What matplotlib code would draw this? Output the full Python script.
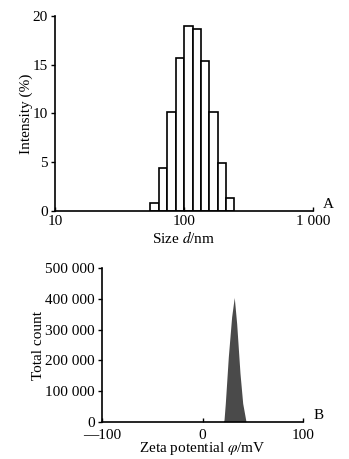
import numpy as np
import matplotlib
matplotlib.use("Agg")
import matplotlib.pyplot as plt

plt.rcParams['font.family'] = ['Liberation Serif', 'DejaVu Serif']
plt.rcParams['mathtext.fontset'] = 'stix'

# Panel A: size distribution
size_edges = [54.4, 63.5, 74.2, 86.5, 100.3, 117.0, 135.8, 157.4, 182.8, 211.9, 246.0]
intensity = [0.8, 4.4, 10.2, 15.7, 19.0, 18.7, 15.4, 10.2, 4.9, 1.3]
size_ticks = [10, 100, 1000]
size_ticklabels = ["10", "100", "1 000"]
int_ticks = [0, 5, 10, 15, 20]

# Panel B: zeta potential
zeta_mv = [20.7, 21.4, 22.7, 25.7, 29.0, 31.6, 34.0, 37.3, 40.0, 43.3]
zeta_count = [0, 5500, 60000, 212000, 342000, 405000, 320000, 158000, 60000, 0]
zeta_ticks = [-100, 0, 100]
zeta_ticklabels = ["\u2014100", "0", "100"]
count_ticks = [0, 100000, 200000, 300000, 400000, 500000]
count_ticklabels = ["0", "100 000", "200 000", "300 000", "400 000", "500 000"]

fs = 11
fig = plt.figure(figsize=(3.49, 4.59), dpi=100)

ax1 = fig.add_axes([55/349, (459-211)/459, 258/349, 195/459])
edges = np.array(size_edges)
ax1.bar(edges[:-1], intensity, width=np.diff(edges), align='edge',
        facecolor='white', edgecolor='black', linewidth=1.2)
ax1.set_xscale('log')
ax1.set_xlim(10, 1000)
ax1.set_ylim(0, 20)
ax1.set_xticks(size_ticks)
ax1.set_xticklabels(size_ticklabels)
ax1.xaxis.set_minor_locator(matplotlib.ticker.NullLocator())
ax1.set_yticks(int_ticks)
ax1.set_xlabel("Size $d$/nm", fontsize=fs, labelpad=1)
ax1.set_ylabel("Intensity (%)", fontsize=fs, labelpad=0)
ax1.text(1.06, 0.0, "A", transform=ax1.transAxes, fontsize=fs, ha='center', va='bottom')

ax2 = fig.add_axes([102/349, (459-421.7)/459, 201/349, 153.4/459])
ax2.fill_between(zeta_mv, zeta_count, 0, color='#4a4a4a', linewidth=0)
ax2.set_xlim(-100, 100)
ax2.set_ylim(0, 500000)
ax2.set_xticks(zeta_ticks)
ax2.set_xticklabels(zeta_ticklabels)
ax2.set_yticks(count_ticks)
ax2.set_yticklabels(count_ticklabels)
ax2.set_xlabel("Zeta potential $\\varphi$/mV", fontsize=fs, labelpad=-1)
ax2.set_ylabel("Total count", fontsize=fs, labelpad=0)
ax2.text(1.08, 0.0, "B", transform=ax2.transAxes, fontsize=fs, ha='center', va='bottom')

for ax in (ax1, ax2):
    for s in ('top', 'right'):
        ax.spines[s].set_visible(False)
    for s in ('left', 'bottom'):
        ax.spines[s].set_linewidth(1.2)
    ax.tick_params(axis='y', direction='out', length=3, width=1.0, labelsize=fs, pad=2)
ax1.tick_params(axis='x', direction='in', length=3, width=1.0, labelsize=fs, pad=3)
ax2.tick_params(axis='x', direction='in', length=3, width=1.0, labelsize=fs, pad=5)

fig.savefig("out.png", dpi=100, facecolor='white')
